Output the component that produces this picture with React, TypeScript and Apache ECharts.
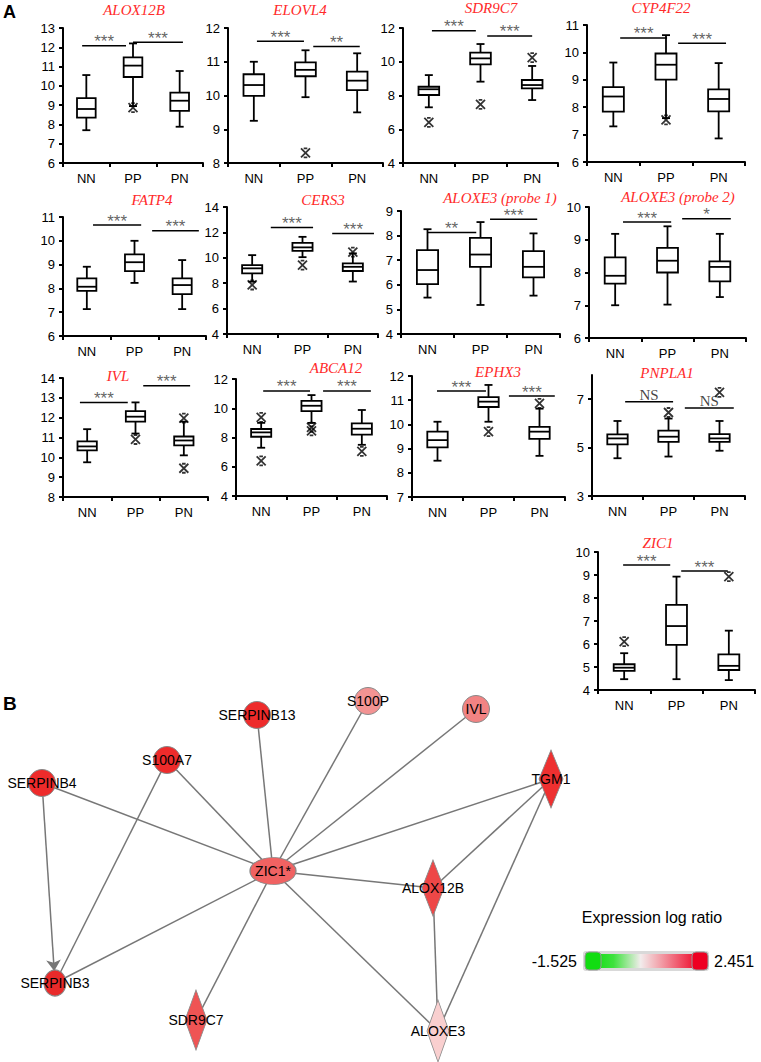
import React, { useEffect, useRef } from "react";
import * as echarts from "echarts";

const SANS = "'Liberation Sans', Arial, Helvetica, sans-serif";
const SERIF = "'Liberation Serif', 'Times New Roman', serif";

// ---------------- Panel A data ----------------
const groups = ["NN", "PP", "PN"];

// box statistics per group: [min, Q1, median, Q3, max] for NN, PP, PN
const alox12bBoxes = [[7.7, 8.35, 8.8, 9.36, 10.56], [8.95, 10.46, 11.05, 11.48, 12.2], [7.88, 8.7, 9.23, 9.65, 10.77]];
const alox12bOutliers = [[1, 8.87]];
const alox12bSig = [[0.41, 1.35, 12.08, "***"], [1.5, 2.57, 12.26, "***"]];
const alox12bTicks = [6, 7, 8, 9, 10, 11, 12, 13];

const elovl4Boxes = [[9.25, 9.99, 10.31, 10.63, 11.0], [9.95, 10.57, 10.76, 10.98, 11.34], [9.5, 10.16, 10.44, 10.71, 11.25]];
const elovl4Outliers = [[1, 8.3]];
const elovl4Sig = [[0.56, 1.47, 11.61, "***"], [1.65, 2.55, 11.45, "**"]];
const elovl4Ticks = [8, 9, 10, 11, 12];

const sdr9c7Boxes = [[7.3, 8.03, 8.37, 8.52, 9.21], [8.82, 9.85, 10.2, 10.54, 11.05], [7.73, 8.42, 8.62, 8.92, 9.75]];
const sdr9c7Outliers = [[0, 6.41], [1, 7.48], [2, 10.24]];
const sdr9c7Sig = [[0.56, 1.41, 11.84, "***"], [1.63, 2.5, 11.53, "***"]];
const sdr9c7Ticks = [4, 6, 8, 10, 12];

const cyp4f22Boxes = [[7.3, 7.84, 8.39, 8.73, 9.63], [7.6, 9.01, 9.55, 9.96, 10.63], [6.86, 7.85, 8.3, 8.65, 9.61]];
const cyp4f22Outliers = [[1, 7.54]];
const cyp4f22Sig = [[0.63, 1.52, 10.53, "***"], [1.73, 2.64, 10.33, "***"]];
const cyp4f22Ticks = [6, 7, 8, 9, 10, 11];

const fatp4Boxes = [[7.13, 7.9, 8.07, 8.42, 8.91], [8.23, 8.73, 9.1, 9.43, 10.0], [7.13, 7.76, 8.14, 8.42, 9.19]];
const fatp4Outliers: number[][] = [];
const fatp4Sig = [[0.63, 1.64, 10.66, "***"], [1.87, 2.85, 10.42, "***"]];
const fatp4Ticks = [6, 7, 8, 9, 10, 11];

const cers3Boxes = [[8.12, 8.78, 9.17, 9.43, 10.21], [10.05, 10.55, 10.82, 11.18, 11.65], [8.13, 8.96, 9.29, 9.56, 10.35]];
const cers3Outliers = [[0, 7.86], [1, 9.43], [2, 10.45]];
const cers3Sig = [[0.87, 1.71, 12.38, "***"], [2.09, 2.92, 11.91, "***"]];
const cers3Ticks = [4, 6, 8, 10, 12, 14];

const aloxe3p1Boxes = [[5.48, 6.03, 6.6, 7.41, 8.26], [5.18, 6.73, 7.23, 7.91, 8.55], [5.56, 6.3, 6.73, 7.37, 8.09]];
const aloxe3p1Outliers: number[][] = [];
const aloxe3p1Sig = [[0.49, 1.42, 8.13, "**"], [1.68, 2.57, 8.66, "***"]];
const aloxe3p1Ticks = [4, 5, 6, 7, 8, 9];

const aloxe3p2Boxes = [[7.0, 7.66, 7.9, 8.46, 9.18], [7.02, 8.0, 8.36, 8.75, 9.41], [7.25, 7.73, 8.17, 8.34, 9.18]];
const aloxe3p2Outliers: number[][] = [];
const aloxe3p2Sig = [[0.65, 1.57, 9.54, "***"], [1.78, 2.71, 9.64, "*"]];
const aloxe3p2Ticks = [6, 7, 8, 9, 10];

const ivlBoxes = [[9.75, 10.35, 10.55, 10.8, 11.42], [11.2, 11.8, 12.05, 12.33, 12.77], [10.1, 10.6, 10.85, 11.05, 11.8]];
const ivlOutliers = [[1, 10.9], [2, 11.98], [2, 9.45]];
const ivlSig = [[0.35, 1.34, 12.77, "***"], [1.66, 2.63, 13.61, "***"]];
const ivlTicks = [8, 9, 10, 11, 12, 13, 14];

const abca12Boxes = [[7.3, 8.05, 8.35, 8.58, 9.0], [9.0, 9.8, 10.17, 10.51, 10.9], [7.5, 8.2, 8.6, 8.97, 9.88]];
const abca12Outliers = [[0, 9.38], [0, 6.4], [1, 8.7], [1, 8.45], [2, 7.05]];
const abca12Sig = [[0.54, 1.47, 11.18, "***"], [1.73, 2.68, 11.18, "***"]];
const abca12Ticks = [4, 6, 8, 10, 12];

const ephx3Boxes = [[8.5, 9.05, 9.35, 9.7, 10.11], [10.11, 10.72, 10.94, 11.13, 11.63], [8.7, 9.4, 9.7, 9.9, 10.65]];
const ephx3Outliers = [[1, 9.7], [2, 10.87]];
const ephx3Sig = [[0.49, 1.45, 11.38, "***"], [1.9, 2.8, 11.17, "***"]];
const ephx3Ticks = [7, 8, 9, 10, 11, 12];

const pnpla1Boxes = [[4.56, 5.13, 5.38, 5.55, 6.1], [4.63, 5.24, 5.45, 5.7, 6.2], [4.87, 5.24, 5.38, 5.56, 6.1]];
const pnpla1Outliers = [[1, 6.45], [2, 7.28]];
const pnpla1Sig = [[0.65, 1.59, 6.89, "NS"], [1.82, 2.78, 6.64, "NS"]];
const pnpla1Ticks = [3, 5, 7];

const zic1Boxes = [[4.47, 4.83, 4.97, 5.12, 5.6], [4.47, 5.96, 6.78, 7.7, 8.93], [4.43, 4.87, 5.05, 5.55, 6.58]];
const zic1Outliers = [[0, 6.1], [2, 8.93]];
const zic1Sig = [[0.48, 1.38, 9.43, "***"], [1.59, 2.48, 9.17, "***"]];
const zic1Ticks = [4, 5, 6, 7, 8, 9, 10];

const panelTitles = ["ALOX12B", "ELOVL4", "SDR9C7", "CYP4F22", "FATP4", "CERS3", "ALOXE3 (probe 1)", "ALOXE3 (probe 2)", "IVL", "ABCA12", "EPHX3", "PNPLA1", "ZIC1"];
const panelBoxes = [alox12bBoxes, elovl4Boxes, sdr9c7Boxes, cyp4f22Boxes, fatp4Boxes, cers3Boxes, aloxe3p1Boxes, aloxe3p2Boxes, ivlBoxes, abca12Boxes, ephx3Boxes, pnpla1Boxes, zic1Boxes];
const panelOutliers = [alox12bOutliers, elovl4Outliers, sdr9c7Outliers, cyp4f22Outliers, fatp4Outliers, cers3Outliers, aloxe3p1Outliers, aloxe3p2Outliers, ivlOutliers, abca12Outliers, ephx3Outliers, pnpla1Outliers, zic1Outliers];
const panelSig = [alox12bSig, elovl4Sig, sdr9c7Sig, cyp4f22Sig, fatp4Sig, cers3Sig, aloxe3p1Sig, aloxe3p2Sig, ivlSig, abca12Sig, ephx3Sig, pnpla1Sig, zic1Sig];
const panelTicks = [alox12bTicks, elovl4Ticks, sdr9c7Ticks, cyp4f22Ticks, fatp4Ticks, cers3Ticks, aloxe3p1Ticks, aloxe3p2Ticks, ivlTicks, abca12Ticks, ephx3Ticks, pnpla1Ticks, zic1Ticks];
const panelYMax = [13, 12, 12, 11, 11, 14, 9, 10, 14, 12, 12, 8, 10];

// ---------------- layout (pixels) ----------------
const gridBoxes = [
  [63, 28, 140, 135], [228, 28, 155, 135], [403, 28, 155, 135], [587, 25, 158, 137],
  [63, 217, 143, 119], [227, 207, 151, 127], [401, 211, 159, 123], [589, 207, 157, 131],
  [63, 378, 145, 119], [236, 379, 151, 117], [412, 376, 153, 121], [592, 375, 153, 121],
  [598, 552, 157, 138],
];
const titlePos = [
  [134, 10], [300, 10], [491, 8], [661, 8],
  [152, 200], [323, 200], [500, 198], [678, 197],
  [118, 376], [336, 368], [498, 372], [667, 373],
  [658, 543],
];

// ---------------- Panel B network ----------------
const netNames = ["SERPINB13", "S100P", "IVL", "S100A7", "SERPINB4", "TGM1", "ZIC1*", "ALOX12B", "SERPINB3", "SDR9C7", "ALOXE3"];
const netX = [257, 368, 476, 167, 42, 551, 273, 433, 55, 196, 438];
const netY = [715, 701, 709, 760, 783, 779, 871, 888, 983, 1020, 1031];
const netShapes = ["circle", "circle", "circle", "circle", "circle", "diamond", "circle", "diamond", "circle", "diamond", "diamond"];
const netSizes: any[] = [27, 27, 27, 27, 27, [24, 58], [46, 27], [22, 56], [22, 26], [22, 60], [22, 62]];
const netColors = ["#ee2b2b", "#f39393", "#f28383", "#ee2b2b", "#ee2b2b", "#ee3030", "#f06262", "#ee4747", "#e92a2a", "#ef5454", "#f9cfcf"];
const netEdges = [
  ["SERPINB4", "ZIC1*"], ["SERPINB4", "SERPINB3"], ["S100A7", "ZIC1*"], ["S100A7", "SERPINB3"],
  ["SERPINB13", "ZIC1*"], ["S100P", "ZIC1*"], ["IVL", "ZIC1*"], ["TGM1", "ZIC1*"],
  ["TGM1", "ALOX12B"], ["TGM1", "ALOXE3"], ["ALOX12B", "ZIC1*"], ["ALOX12B", "ALOXE3"],
  ["ZIC1*", "SERPINB3"], ["ZIC1*", "SDR9C7"], ["ZIC1*", "ALOXE3"],
];
const arrowEdges = ["SERPINB4>SERPINB3"];
const legendMin = "-1.525";
const legendMax = "2.451";

const XMARK = "path://M0,0L10,10M10,0L0,10M3,0L7,0M3,10L7,10";

function renderBox(params: any, api: any) {
  const idx = api.value(0);
  const pts = [1, 2, 3, 4, 5].map((i) => api.coord([idx, api.value(i)]));
  const cx = pts[0][0];
  const catW = api.size([1, 0])[0];
  const half = catW * 0.2;
  const cap = 4;
  const st = { stroke: "#000", lineWidth: 1.8, fill: null };
  return {
    type: "group",
    children: [
      { type: "line", shape: { x1: cx, y1: pts[0][1], x2: cx, y2: pts[1][1] }, style: st },
      { type: "line", shape: { x1: cx, y1: pts[3][1], x2: cx, y2: pts[4][1] }, style: st },
      { type: "line", shape: { x1: cx - cap, y1: pts[0][1], x2: cx + cap, y2: pts[0][1] }, style: st },
      { type: "line", shape: { x1: cx - cap, y1: pts[4][1], x2: cx + cap, y2: pts[4][1] }, style: st },
      { type: "rect", shape: { x: cx - half, y: pts[3][1], width: 2 * half, height: pts[1][1] - pts[3][1] }, style: { stroke: "#000", lineWidth: 1.8, fill: "#fff" } },
      { type: "line", shape: { x1: cx - half, y1: pts[2][1], x2: cx + half, y2: pts[2][1] }, style: st },
    ],
  };
}

function buildOption() {
  const grid: any[] = [];
  const xAxis: any[] = [];
  const yAxis: any[] = [];
  const series: any[] = [];
  const graphic: any[] = [];

  panelTitles.forEach((name, i) => {
    const [l, t, w, h] = gridBoxes[i];
    const ticks = panelTicks[i];
    grid.push({ left: l, top: t, width: w, height: h });
    xAxis.push({
      type: "category", gridIndex: i, data: groups, boundaryGap: true,
      axisLine: { show: true, lineStyle: { color: "#000", width: 2 } },
      axisTick: { show: true, length: 4, lineStyle: { color: "#000", width: 2 } },
      axisLabel: { color: "#000", fontSize: 13, fontFamily: SANS, margin: 9 },
      splitLine: { show: false },
    });
    xAxis.push({ type: "value", gridIndex: i, min: 0, max: 3, show: false });
    yAxis.push({
      type: "value", gridIndex: i, min: ticks[0], max: panelYMax[i],
      axisLine: { show: true, lineStyle: { color: "#000", width: 2 } },
      axisTick: { show: true, length: 4, lineStyle: { color: "#000", width: 2 }, customValues: ticks },
      axisLabel: { color: "#000", fontSize: 13, fontFamily: SANS, margin: 8, customValues: ticks },
      splitLine: { show: false },
    });
    series.push({
      type: "custom", xAxisIndex: 2 * i, yAxisIndex: i, silent: true, z: 3,
      data: panelBoxes[i].map((b, k) => [k, ...b]),
      encode: { x: 0, y: [1, 2, 3, 4, 5] },
      renderItem: renderBox,
    });
    if (panelOutliers[i].length) {
      series.push({
        type: "scatter", xAxisIndex: 2 * i, yAxisIndex: i, silent: true, z: 4,
        data: panelOutliers[i], symbol: XMARK, symbolSize: 9,
        itemStyle: { color: "rgba(0,0,0,0)", borderColor: "#000", borderWidth: 1.8 },
      });
    }
    panelSig[i].forEach((s: any) => {
      series.push({
        type: "line", xAxisIndex: 2 * i + 1, yAxisIndex: i, silent: true, z: 2,
        data: [[s[0], s[2]], [s[1], s[2]]], symbol: "none",
        lineStyle: { color: "#000", width: 1.5 },
      });
    });
    series.push({
      type: "scatter", xAxisIndex: 2 * i + 1, yAxisIndex: i, silent: true, z: 5,
      symbolSize: 1, itemStyle: { color: "rgba(0,0,0,0)" },
      data: panelSig[i].map((s: any) => ({
        value: [(s[0] + s[1]) / 2, s[2], s[3]],
        label: s[3] === "NS"
          ? { fontFamily: SERIF, fontSize: 15, color: "#111", offset: [0, -7] }
          : { fontFamily: SANS, fontSize: 17, color: "#3a3a3a", offset: [0, -4] },
      })),
      label: { show: true, position: "inside", align: "center", verticalAlign: "middle", formatter: (d: any) => d.value[2] },
    });
    graphic.push({
      type: "text", x: titlePos[i][0], y: titlePos[i][1], silent: true,
      style: { text: name, align: "center", verticalAlign: "middle", fill: "#ff2a2a", font: `italic 15px ${SERIF}` },
    });
  });

  graphic.push({ type: "text", x: 3, y: 12, style: { text: "A", verticalAlign: "middle", fill: "#000", font: `bold 18px ${SANS}` } });
  graphic.push({ type: "text", x: 3, y: 703, style: { text: "B", verticalAlign: "middle", fill: "#000", font: `bold 19px ${SANS}` } });

  // expression legend
  graphic.push({ type: "text", x: 652, y: 917, style: { text: "Expression log ratio", align: "center", verticalAlign: "middle", fill: "#000", font: `16px ${SANS}` } });
  graphic.push({ type: "rect", shape: { x: 583, y: 951, width: 126, height: 20, r: 3 }, style: { fill: "#d9d9d9" } });
  graphic.push({
    type: "rect", shape: { x: 592, y: 954, width: 108, height: 14 },
    style: {
      fill: { type: "linear", x: 0, y: 0, x2: 1, y2: 0, colorStops: [
        { offset: 0, color: "#10dd10" }, { offset: 0.2, color: "#3ee23e" }, { offset: 0.45, color: "#f2ecec" },
        { offset: 0.62, color: "#f2a6ae" }, { offset: 1, color: "#ee0022" },
      ] },
    },
  });
  graphic.push({ type: "rect", shape: { x: 585, y: 952, width: 16, height: 18, r: 4 }, style: { fill: "#11dd11", stroke: "#999", lineWidth: 1 } });
  graphic.push({ type: "rect", shape: { x: 692, y: 952, width: 16, height: 18, r: 4 }, style: { fill: "#ee0022", stroke: "#999", lineWidth: 1 } });
  graphic.push({ type: "text", x: 577, y: 961, style: { text: legendMin, align: "right", verticalAlign: "middle", fill: "#000", font: `16px ${SANS}` } });
  graphic.push({ type: "text", x: 714, y: 961, style: { text: legendMax, align: "left", verticalAlign: "middle", fill: "#000", font: `16px ${SANS}` } });

  const minX = Math.min(...netX), maxX = Math.max(...netX);
  const minY = Math.min(...netY), maxY = Math.max(...netY);
  series.push({
    type: "graph", layout: "none", roam: false, silent: true, z: 6,
    left: minX, top: minY, width: maxX - minX, height: maxY - minY,
    data: netNames.map((n, k) => ({
      name: n, x: netX[k], y: netY[k], symbol: netShapes[k], symbolSize: netSizes[k],
      itemStyle: { color: netColors[k], borderColor: "#888", borderWidth: 1 },
    })),
    links: netEdges.map(([s, t]) => {
      const arrow = arrowEdges.includes(`${s}>${t}`);
      return arrow
        ? { source: s, target: t, symbol: ["none", "arrow"], symbolSize: [0, 11] }
        : { source: s, target: t };
    }),
    label: { show: true, position: "inside", color: "#000", fontSize: 14, fontFamily: SANS },
    lineStyle: { color: "#777", width: 1.5, opacity: 1, curveness: 0 },
    emphasis: { disabled: true },
  });

  return { animation: false, backgroundColor: "#fff", grid, xAxis, yAxis, series, graphic };
}

export default function App() {
  const ref = useRef<HTMLDivElement>(null);
  useEffect(() => {
    if (!ref.current) return;
    const chart = echarts.init(ref.current, undefined, { renderer: "svg" });
    chart.setOption(buildOption() as any);
    return () => chart.dispose();
  }, []);
  return <div ref={ref} style={{ position: "fixed", left: 0, top: 0, width: 761, height: 1062, background: "#fff" }} />;
}
